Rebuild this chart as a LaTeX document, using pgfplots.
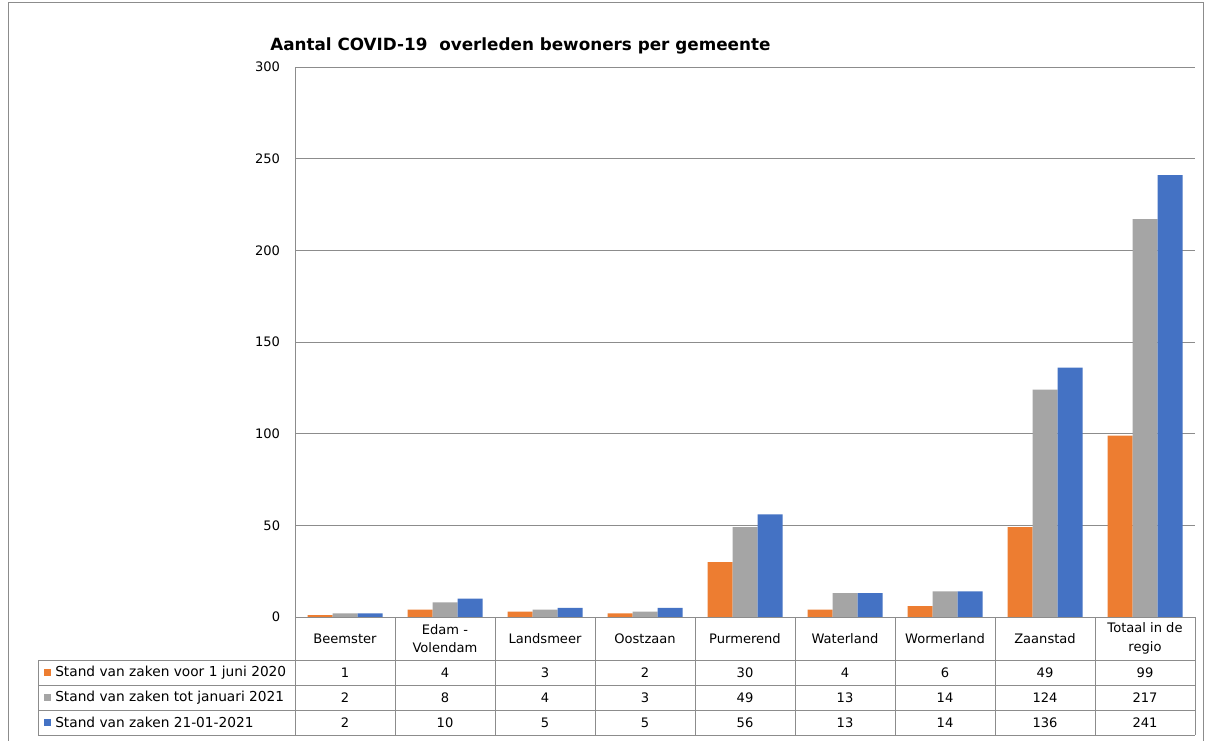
\documentclass[border=0pt]{standalone}
\usepackage{fontspec}
\setmainfont{DejaVu Sans}
\usepackage{pgfplots}
\usepackage{pgfplotstable}
\pgfplotsset{compat=1.18}
\definecolor{cOr}{HTML}{ED7D31}
\definecolor{cGr}{HTML}{A5A5A5}
\definecolor{cBl}{HTML}{4472C4}
\definecolor{lineg}{HTML}{8C8C8C}
\pgfplotstableread{
x a b c
0 1 2 2
1 4 8 10
2 3 4 5
3 2 3 5
4 30 49 56
5 4 13 13
6 6 14 14
7 49 124 136
8 99 217 241
}\data
\newcommand{\tf}{\fontsize{9.8}{14}\selectfont}
\begin{document}
\begin{tikzpicture}[x=0.75pt,y=-0.75pt]
\useasboundingbox (0,0) rectangle (1205,740);
\fill[white] (0,0) rectangle (1205,740);
\draw[lineg, line width=0.75pt] (8,745) -- (8,2) -- (1203,2) -- (1203,745);
\node[anchor=west, inner sep=0pt, font=\bfseries\fontsize{12.6}{14}\selectfont] at (270,45.5) {Aantal COVID-19\ \ overleden bewoners per gemeente};
\begin{axis}[at={(221.25pt,-462.75pt)}, anchor=south west, scale only axis,
  width=675pt, height=412.5pt, xmin=-0.5, xmax=8.5, ymin=0, ymax=300,
  ytick={0,50,...,300}, xtick=\empty, axis x line=none, axis y line=left,
  axis line style={lineg, line width=0.75pt, -}, ymajorgrids,
  grid style={lineg, line width=0.75pt}, major tick length=0pt,
  yticklabel style={font=\tf, inner sep=0pt, xshift=-11pt},
  /pgf/number format/assume math mode=true, clip=false,
  every node near coord/.append style={anchor=center, inner sep=0pt, font=\tf, text=black}]
\addplot[ybar, bar width=18.75pt, bar shift=-18.75pt, fill=cOr, draw=none] table[x=x,y=a]{\data};
\addplot[ybar, bar width=18.75pt, bar shift=0pt, fill=cGr, draw=none] table[x=x,y=b]{\data};
\addplot[ybar, bar width=18.75pt, bar shift=18.75pt, fill=cBl, draw=none] table[x=x,y=c]{\data};
\pgfplotsset{tabrow/.style={only marks, mark=*, mark size=0pt, mark options={draw=none,fill=none}, scatter/use mapped color={draw=none,fill=none}, nodes near coords, point meta=explicit}}
\addplot[tabrow] table[x=x, y expr=-30.27, meta=a]{\data};
\addplot[tabrow] table[x=x, y expr=-43.9, meta=b]{\data};
\addplot[tabrow] table[x=x, y expr=-57.55, meta=c]{\data};
\end{axis}
\begin{scope}[lineg, line width=0.75pt]
\draw (295,617)--(1195,617);
\foreach \y in {660,685,710,735} \draw (38,\y)--(1195,\y);
\draw (38,660)--(38,735);
\foreach \x in {295,395,...,1195} \draw (\x,617)--(\x,735);
\end{scope}
\begin{scope}[every node/.style={font=\tf, align=center, inner sep=0pt}]
\node at (345,638.5) {Beemster};
\node at (445,638.5) {Edam -\\Volendam};
\node at (545,638.5) {Landsmeer};
\node at (645,638.5) {Oostzaan};
\node at (745,638.5) {Purmerend};
\node at (845,638.5) {Waterland};
\node at (945,638.5) {Wormerland};
\node at (1045,638.5) {Zaanstad};
\node at (1145,638.5) {Totaal in de\\regio};
\end{scope}
\fill[cOr] (44,669) rectangle (51,676);
\fill[cGr] (44,694) rectangle (51,701);
\fill[cBl] (44,719) rectangle (51,726);
\begin{scope}[every node/.style={font=\fontsize{10.3}{12}\selectfont, anchor=west, inner sep=0pt}]
\node at (55,672.5) {Stand van zaken voor 1 juni 2020};
\node at (55,697.5) {Stand van zaken tot januari 2021};
\node at (55,722.5) {Stand van zaken 21-01-2021};
\end{scope}
\end{tikzpicture}
\end{document}
